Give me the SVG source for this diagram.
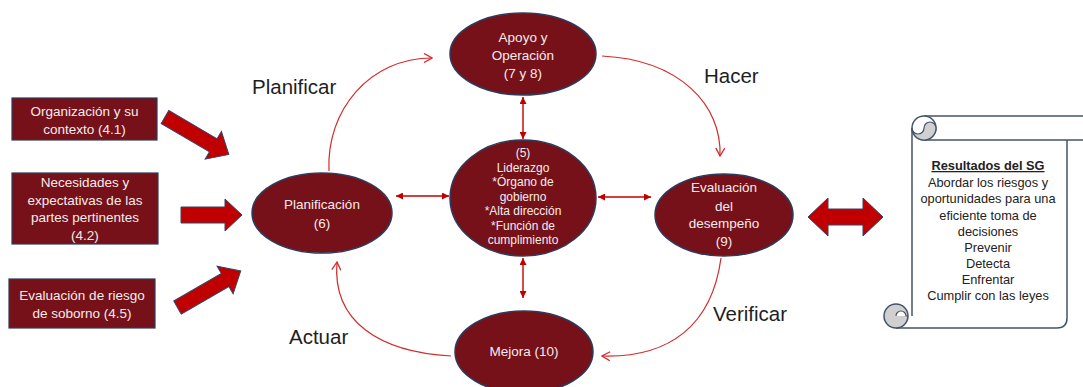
<svg xmlns="http://www.w3.org/2000/svg" width="1083" height="387" viewBox="0 0 1083 387">
<defs>
<style>
.node{fill:#761019;stroke:#2e3b5c;stroke-width:1.5}
.box{fill:#761019;stroke:#2e3b5c;stroke-width:1.2}
.nt{font-family:"Liberation Sans",Arial,sans-serif;font-size:13.5px;fill:#f4ecec;text-anchor:middle}
.sm{font-size:12px}
.lbl{font-family:"Liberation Sans",Arial,sans-serif;font-size:20.5px;fill:#1e1e1e}
.blk{fill:#c00000;stroke:#3a4063;stroke-width:1}
.thin{fill:none;stroke:#c00000;stroke-width:1.4;marker-start:url(#tri);marker-end:url(#tri)}
.arc{fill:none;stroke:#d42a2a;stroke-width:1.2;marker-end:url(#chev)}
.st{font-family:"Liberation Sans",Arial,sans-serif;font-size:12.8px;fill:#222;text-anchor:middle}
.ol{fill:none;stroke:#44546a;stroke-width:1.5}
</style>
<marker id="tri" viewBox="0 0 10 10" refX="10" refY="5" markerWidth="8" markerHeight="7" markerUnits="userSpaceOnUse" orient="auto-start-reverse"><path d="M0,0 L10,5 L0,10 z" fill="#c00000"/></marker>
<marker id="chev" viewBox="0 0 10 10" refX="9" refY="5" markerWidth="10" markerHeight="10" markerUnits="userSpaceOnUse" orient="auto"><path d="M1,0.5 L9,5 L1,9.5" fill="none" stroke="#d42a2a" stroke-width="1.3"/></marker>
</defs>
<rect width="1083" height="387" fill="#ffffff"/>

<g id="connectors">
<path class="thin" d="M523 97 L523 139"/>
<path class="thin" d="M523 258 L523 298"/>
<path class="thin" d="M396 196 L449 196"/>
<path class="thin" d="M598 197 L651 197"/>
<path class="arc" d="M329 171 C326 110 370 58 432 58"/>
<path class="arc" d="M602 56 C680 60 722 105 720 156"/>
<path class="arc" d="M721 258 C712 325 670 358 602 356"/>
<path class="arc" d="M451 356 C380 352 332 322 337 262"/>
<polygon class="blk" transform="translate(165,117) rotate(30.4)" points="0,-7.5 56,-7.5 56,-16 74,0 56,16 56,7.5 0,7.5"/>
<polygon class="blk" transform="translate(181,215)" points="0,-8 44,-8 44,-16 61,0 44,16 44,8 0,8"/>
<polygon class="blk" transform="translate(177.5,307.5) rotate(-30)" points="0,-7.5 55,-7.5 55,-16 73,0 55,16 55,7.5 0,7.5"/>
<polygon class="blk" points="808,217 828,198 828,209 863,209 863,198 883,217 863,236 863,225 828,225 828,236"/>
</g>

<g id="labels">
<text class="lbl" x="252" y="94">Planificar</text>
<text class="lbl" x="704" y="83">Hacer</text>
<text class="lbl" x="713" y="321">Verificar</text>
<text class="lbl" x="289" y="344">Actuar</text>
</g>

<g id="box-organizacion">
<rect class="box" x="12" y="98" width="145" height="42"/>
<text class="nt" x="84.5" y="116">Organización y su</text>
<text class="nt" x="84.5" y="134">contexto (4.1)</text>
</g>
<g id="box-necesidades">
<rect class="box" x="12" y="173" width="146" height="71"/>
<text class="nt" x="85" y="187">Necesidades y</text>
<text class="nt" x="85" y="204.5">expectativas de las</text>
<text class="nt" x="85" y="222">partes pertinentes</text>
<text class="nt" x="85" y="239.5">(4.2)</text>
</g>
<g id="box-evaluacion-riesgo">
<rect class="box" x="9" y="279" width="146" height="49"/>
<text class="nt" x="82" y="300">Evaluación de riesgo</text>
<text class="nt" x="82" y="318">de soborno (4.5)</text>
</g>

<g id="node-apoyo">
<ellipse class="node" cx="523" cy="54" rx="73" ry="41"/>
<text class="nt" x="523" y="42">Apoyo y</text>
<text class="nt" x="523" y="60">Operación</text>
<text class="nt" x="523" y="78">(7 y 8)</text>
</g>
<g id="node-liderazgo">
<ellipse class="node" cx="523" cy="198" rx="73" ry="58"/>
<text class="nt sm" x="523" y="157">(5)</text>
<text class="nt sm" x="523" y="171.5">Liderazgo</text>
<text class="nt sm" x="523" y="186">*Órgano de</text>
<text class="nt sm" x="523" y="200.5">gobierno</text>
<text class="nt sm" x="523" y="215">*Alta dirección</text>
<text class="nt sm" x="523" y="229.5">*Función de</text>
<text class="nt sm" x="523" y="244">cumplimiento</text>
</g>
<g id="node-planificacion">
<ellipse class="node" cx="322" cy="213" rx="70" ry="40"/>
<text class="nt" x="322" y="209">Planificación</text>
<text class="nt" x="322" y="228">(6)</text>
</g>
<g id="node-evaluacion">
<ellipse class="node" cx="724" cy="215" rx="69" ry="41"/>
<text class="nt" x="724" y="192">Evaluación</text>
<text class="nt" x="724" y="210.5">del</text>
<text class="nt" x="724" y="228">desempeño</text>
<text class="nt" x="724" y="246">(9)</text>
</g>
<g id="node-mejora">
<ellipse class="node" cx="524" cy="352" rx="69" ry="41"/>
<text class="nt" x="524" y="356">Mejora (10)</text>
</g>

<g id="node-resultados">
<path d="M912 128 L924 116 L1090 116 L1090 140 L1067 140 L1067 318 Q1067 328 1057 328 L896 328 L896 304 L912 304 Z" fill="#ffffff"/>
<path class="ol" d="M924 116 L1090 116 M924 140 L1090 140"/>
<path class="ol" d="M1067 140 L1067 318 Q1067 328 1057 328 L896 328"/>
<path class="ol" d="M912 128 L912 316"/>
<circle cx="924" cy="128" r="12" fill="#ffffff" stroke="#44546a" stroke-width="1.5"/>
<path d="M912 128 A12 12 0 0 0 936 128 A6 6 0 0 0 924 128 A6 6 0 0 1 912 128 Z" fill="#d0d0d0" stroke="#44546a" stroke-width="1.2"/>
<circle cx="896" cy="316" r="12" fill="#d0d0d0" stroke="#44546a" stroke-width="1.5"/>
<path d="M896 316 A5 5 0 0 1 906 316 L908 316" fill="#ffffff" stroke="#44546a" stroke-width="1.2"/>
<text class="st" x="988" y="170" font-weight="bold" font-size="14.5px" text-decoration="underline">Resultados del SG</text>
<text class="st" x="988" y="186.5">Abordar los riesgos y</text>
<text class="st" x="988" y="203">oportunidades para una</text>
<text class="st" x="988" y="219.5">eficiente toma de</text>
<text class="st" x="988" y="236">decisiones</text>
<text class="st" x="988" y="252">Prevenir</text>
<text class="st" x="988" y="268">Detecta</text>
<text class="st" x="988" y="284">Enfrentar</text>
<text class="st" x="988" y="300">Cumplir con las leyes</text>
</g>
</svg>
